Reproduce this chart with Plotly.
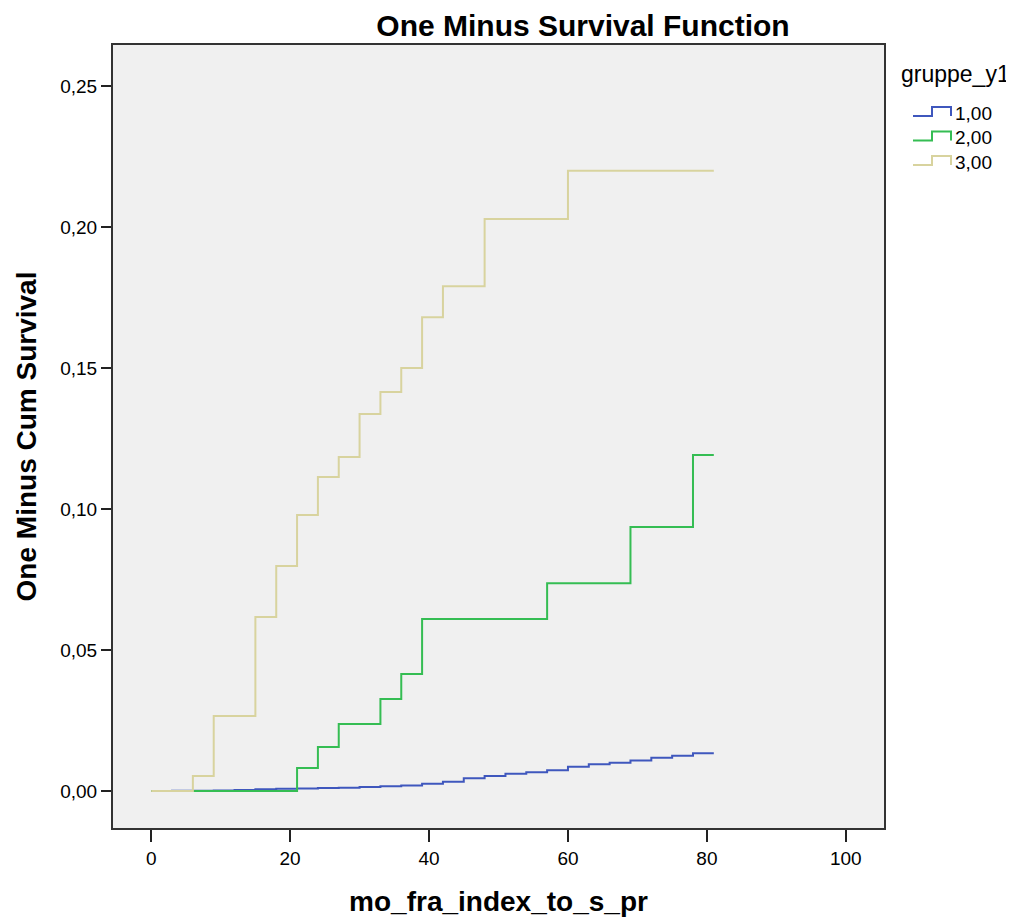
import plotly.graph_objects as go

# ---- data ----
group_names = ["1,00", "2,00", "3,00"]

g1_time = [0, 3, 6, 9, 12, 15, 18, 21, 24, 27, 30, 33, 36, 39, 42, 45, 48, 51, 54,
           57, 60, 63, 66, 69, 72, 75, 78, 81]
g1_value = [0, 0.0001, 0.0001, 0.0002, 0.0004, 0.0006, 0.0008, 0.0009, 0.0011, 0.0012,
            0.0014, 0.0017, 0.0020, 0.0026, 0.0033, 0.0045, 0.0053, 0.0061, 0.0067,
            0.0074, 0.0086, 0.0095, 0.0100, 0.0108, 0.0118, 0.0125, 0.0134, 0.0134]

g2_time = [0, 21, 24, 27, 33, 36, 39, 57, 69, 78, 81]
g2_value = [0, 0.0082, 0.0156, 0.0238, 0.0326, 0.0415, 0.0610, 0.0737, 0.0936, 0.1191, 0.1191]

g3_time = [0, 6, 9, 15, 18, 21, 24, 27, 30, 33, 36, 39, 42, 48, 60, 81]
g3_value = [0, 0.0053, 0.0266, 0.0617, 0.0798, 0.0979, 0.1113, 0.1184, 0.1337, 0.1415,
            0.1500, 0.1680, 0.1790, 0.2028, 0.2199, 0.2199]

x_ticks = [0, 20, 40, 60, 80, 100]
y_ticks = [0, 0.05, 0.10, 0.15, 0.20, 0.25]
legend_title = "gruppe_y1"

colors = ["#3f57bd", "#35bd53", "#d8d39e"]
FONT = "Liberation Sans, Arial, sans-serif"

# figure geometry (page body has an 8px margin)
W, H = 1006, 914
L, R, T, B = 105, 130, 37, 94
PW, PH = W - L - R, H - T - B


def px(xs):  # screenshot x -> paper fraction
    return (xs - 8 - L) / PW


def py(ys):  # screenshot y -> paper fraction
    return (H - B - (ys - 8)) / PH


fig = go.Figure()
for name, t, v, c in zip(group_names, [g1_time, g2_time, g3_time],
                         [g1_value, g2_value, g3_value], colors):
    fig.add_trace(go.Scatter(x=t, y=v, mode="lines", name=name, showlegend=False,
                             line=dict(color=c, width=2, shape="hv")))

# custom legend (step-shaped glyphs like the original)
annotations = [dict(text=legend_title, xref="paper", yref="paper",
                    x=px(899), y=py(74), xanchor="left", yanchor="middle",
                    showarrow=False, font=dict(size=23, family=FONT, color="#000"))]
shapes = []
for i, (name, c) in enumerate(zip(group_names, colors)):
    yc = 113 + i * 24.5
    x0, x1, x2 = px(913), px(932), px(951)
    ylo, yhi = py(yc + 3), py(yc - 6)
    shapes.append(dict(type="path", xref="paper", yref="paper",
                       path=f"M {x0},{ylo} L {x1},{ylo} L {x1},{yhi} L {x2},{yhi} L {x2},{ylo}",
                       line=dict(color=c, width=2)))
    annotations.append(dict(text=name, xref="paper", yref="paper",
                            x=px(953), y=py(yc), xanchor="left", yanchor="middle",
                            showarrow=False, font=dict(size=19, family=FONT, color="#000")))

fig.update_layout(
    width=W, height=H,
    margin=dict(l=L, r=R, t=T, b=B, autoexpand=False),
    paper_bgcolor="white",
    plot_bgcolor="#f0f0f0",
    separators=",.",
    font=dict(family=FONT, color="#000000", size=19),
    title=dict(text="<b>One Minus Survival Function</b>",
               font=dict(family=FONT, size=30, color="#000"),
               xref="container", x=575 / W, xanchor="center",
               yref="container", y=1 - 17 / H, yanchor="middle"),
    showlegend=False,
    annotations=annotations,
    shapes=shapes,
)

fig.update_xaxes(range=[-5.5, 105.5], tickvals=x_ticks, ticks="outside", ticklen=12,
                 tickwidth=1.5, tickcolor="#222", showgrid=False, zeroline=False,
                 showline=True, mirror=True, linecolor="#333", linewidth=2,
                 tickfont=dict(size=19, family=FONT),
                 title=dict(text="<b>mo_fra_index_to_s_pr</b>",
                            font=dict(size=28, family=FONT), standoff=24))
fig.update_yaxes(range=[-0.0131, 0.2645], tickvals=y_ticks, tickformat=".2f",
                 ticks="outside", ticklen=10, tickwidth=1.5, tickcolor="#222",
                 showgrid=False, zeroline=False,
                 showline=True, mirror=True, linecolor="#333", linewidth=2,
                 tickfont=dict(size=19, family=FONT),
                 title=dict(text="<b>One Minus Cum Survival</b>",
                            font=dict(size=28, family=FONT), standoff=15))

fig.write_html("out.html")
